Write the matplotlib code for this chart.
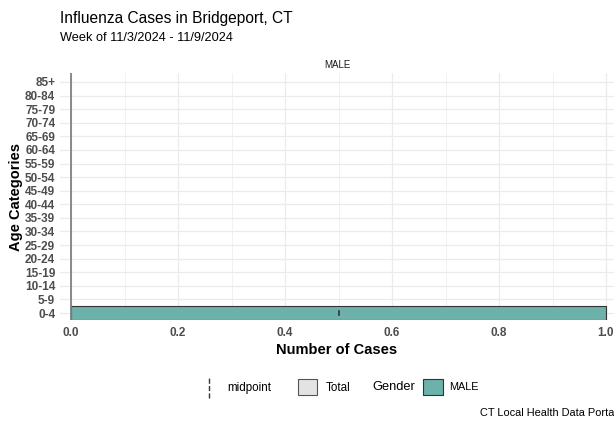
import matplotlib
matplotlib.use("Agg")
import matplotlib.pyplot as plt
from matplotlib.patches import Patch
from matplotlib.lines import Line2D
from matplotlib.legend_handler import HandlerBase
import numpy as np

plt.rcParams['font.family'] = ['Liberation Sans', 'DejaVu Sans']

# data
age_categories = ['0-4', '5-9', '10-14', '15-19', '20-24', '25-29', '30-34', '35-39',
                  '40-44', '45-49', '50-54', '55-59', '60-64', '65-69', '70-74',
                  '75-79', '80-84', '85+']
male_cases = [1, 0, 0, 0, 0, 0, 0, 0, 0, 0, 0, 0, 0, 0, 0, 0, 0, 0]
x_ticks = [0.0, 0.2, 0.4, 0.6, 0.8, 1.0]

teal = '#6cb2aa'
tick_col = '#4d4d4d'
grid_col = '#ebebeb'


class VerticalLineHandler(HandlerBase):
    # draws the legend key as a vertical dashed line
    def create_artists(self, legend, orig_handle, xdescent, ydescent,
                       width, height, fontsize, trans):
        x = width / 2 - xdescent
        line = Line2D([x, x], [-ydescent - 2, height - ydescent + 2],
                      color=orig_handle.get_color(),
                      linestyle=orig_handle.get_linestyle(),
                      linewidth=orig_handle.get_linewidth(), transform=trans)
        return [line]


fig = plt.figure(figsize=(6.14, 4.24), dpi=100)
ax = fig.add_axes([60 / 614, 1 - 320 / 424, 554 / 614, 247 / 424])

ypos = np.arange(len(age_categories))
vals = np.array(male_cases, dtype=float)
ax.barh(ypos[vals > 0], vals[vals > 0], height=1.0, color=teal,
        edgecolor='#333333', linewidth=0.8, zorder=3)

# midpoint marks
for y, v in zip(ypos, vals):
    if v > 0:
        ax.plot([v / 2, v / 2], [y - 0.12, y + 0.12], color='#333333',
                linewidth=1.2, zorder=4)

ax.axvline(0, color='#808080', linewidth=1.3, zorder=5)

ax.set_xlim(-11 / 535, 1 + 8 / 535)
ax.set_ylim(-0.515, 17.66)
ax.set_xticks(x_ticks)
ax.set_xticklabels([f'{t:.1f}' for t in x_ticks])
ax.set_xticks(np.arange(0.1, 1.0, 0.2), minor=True)
ax.set_yticks(ypos)
ax.set_yticklabels(age_categories)

ax.grid(True, which='major', color=grid_col, linewidth=0.9, zorder=0)
ax.grid(True, which='minor', axis='x', color=grid_col, linewidth=0.5, zorder=0)
ax.tick_params(axis='both', which='both', length=0)
ax.tick_params(axis='x', pad=5)
ax.tick_params(axis='y', pad=3.5)
for lab in ax.get_xticklabels() + ax.get_yticklabels():
    lab.set_fontweight('bold')
    lab.set_color(tick_col)
    lab.set_fontsize(8.5)

for s in ax.spines.values():
    s.set_visible(False)

ax.set_xlabel('Number of Cases', fontsize=10.5, fontweight='bold', labelpad=3)
ax.set_ylabel('Age Categories', fontsize=10.5, fontweight='bold', labelpad=1.5)

ax.set_title('MALE', fontsize=7, pad=3.5, color='#1a1a1a')

fig.text(0.098, 1 - 18 / 424, 'Influenza Cases in Bridgeport, CT', fontsize=11.2, va='center')
fig.text(0.098, 1 - 38 / 424, 'Week of 11/3/2024 - 11/9/2024', fontsize=9.2, va='center')

# legends
leg_y = 1 - 387 / 424
h1 = [Line2D([0], [0], color='#333333', linestyle=(0, (2, 2)), linewidth=1),
      Patch(facecolor='#e3e3e3', edgecolor='#555555', linewidth=0.8)]
fig.legend(h1, ['midpoint', 'Total'], ncol=2, loc='center left',
           bbox_to_anchor=(199 / 614, leg_y), frameon=False, fontsize=8.4,
           handlelength=1.65, handleheight=1.7, columnspacing=2.3,
           handletextpad=0.75, borderpad=0, borderaxespad=0,
           handler_map={Line2D: VerticalLineHandler()})
fig.text(372 / 614, leg_y, 'Gender', fontsize=9.3, va='center')
h2 = [Patch(facecolor=teal, edgecolor='#333333', linewidth=0.8)]
fig.legend(h2, ['MALE'], loc='center left', bbox_to_anchor=(423 / 614, leg_y),
           frameon=False, fontsize=7.8, handlelength=1.85, handleheight=1.85,
           handletextpad=0.55, borderaxespad=0, borderpad=0)

fig.text(480 / 614, 1 - 413 / 424, 'CT Local Health Data Portal', fontsize=7.9,
         ha='left', va='center')

fig.savefig('out.png', dpi=100)
